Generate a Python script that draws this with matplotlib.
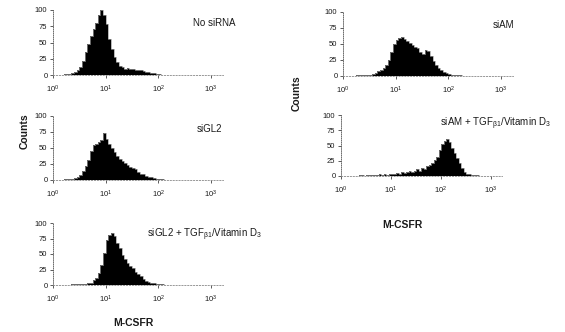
import numpy as np
import matplotlib
matplotlib.use("Agg")
import matplotlib.pyplot as plt

plt.rcParams['font.family'] = ['Liberation Sans', 'DejaVu Sans']
plt.rcParams['mathtext.fontset'] = 'custom'
plt.rcParams['mathtext.rm'] = 'Liberation Sans'
plt.rcParams['mathtext.it'] = 'Liberation Sans:italic'
plt.rcParams['mathtext.default'] = 'regular'

# histogram channels: log10(M-CSFR) from 0 to 3.2, 0.05 per bin
bin_edges = np.arange(0, 3.2001, 0.05)

no_sirna = [0, 0, 0.5, 0, 1, 1.5, 2, 3, 4, 7,
            12, 22, 36, 48, 60, 71, 80, 92, 100, 93,
            78, 55, 40, 28, 20, 14, 12, 10, 11, 9,
            10, 8, 7, 8, 6, 5, 4, 3, 2.5, 1.5,
            1, 0.5, 0.5, 0, 0.5, 0, 0.5, 0, 0.5, 0,
            0.5, 0, 0.5, 0.5, 0, 0.5, 0, 0.5, 0, 0.5,
            0, 0.5, 0, 0]

sigl2 = [0, 0, 0.5, 0.5, 1, 1, 1.5, 2, 2.5, 4,
         8, 14, 22, 31, 46, 54, 57, 59, 63, 74,
         64, 56, 50, 44, 38, 33, 29, 26, 23, 21,
         19, 17, 13, 10, 9, 7, 5, 4, 3, 2,
         1.5, 1, 0.5, 0.5, 0, 0.5, 0.5, 0, 0.5, 0,
         0.5, 0, 0.5, 0, 0.5, 0.5, 0, 0.5, 0, 0.5,
         0, 0.5, 0, 0]

sigl2_tgf = [0, 0, 0, 0.5, 0.5, 0.5, 0.5, 1, 1, 1,
             1.5, 1.5, 2, 2.5, 4, 8, 12, 19, 33, 52,
             72, 80, 84, 79, 68, 60, 49, 42, 35, 31,
             27, 21, 17, 14, 10, 7, 5, 3.5, 2.5, 2,
             1, 1, 0.5, 0.5, 0, 0.5, 0, 0.5, 0, 0,
             0.5, 0, 0, 0.5, 0, 0.5, 0, 0, 0.5, 0,
             0.5, 0, 0, 0]

siam = [0, 0, 0.5, 0.5, 0.5, 1, 1, 1, 1.5, 1.5,
        2, 3, 5, 8, 10, 13, 17, 25, 38, 50,
        57, 59, 61, 58, 55, 52, 48, 46, 43, 37,
        35, 40, 39, 31, 23, 17, 13, 9, 6.5, 5,
        3, 2, 1.5, 1, 1, 0.5, 0.5, 0.5, 0, 0.5,
        0, 0.5, 0.5, 0, 0.5, 0, 0.5, 0.5, 0, 0.5,
        0.5, 0, 0.5, 0]

siam_tgf = [0, 0, 0.5, 0, 0.5, 0.5, 0, 1, 1, 0.5,
            1, 1.5, 1, 2, 1.5, 3, 2, 2.5, 2, 3,
            4, 3, 5, 4, 6, 5, 7, 9, 6, 8,
            11, 9, 13, 12, 16, 18, 21, 26, 31, 42,
            52, 58, 61, 55, 46, 37, 30, 21, 13, 7,
            4, 2.5, 1.5, 1, 1, 0.5, 0.5, 0, 0.5, 0.5,
            0, 0.5, 0, 0]

y_ticks = [0, 25, 50, 75, 100]
x_ticks = [0, 1, 2, 3]
x_labels = ['10$^0$', '10$^1$', '10$^2$', '10$^3$']

tgf = r'TGF$_{\beta1}$/Vitamin D$_3$'
panels = [
    # counts, label, left px, baseline px, px per decade, height px, label x, label y
    (no_sirna, 'No siRNA', 53, 75, 52.7, 65, 193, 23),
    (sigl2, 'siGL2', 53, 180, 52.7, 64, 197, 129),
    (sigl2_tgf, 'siGL2 + ' + tgf, 53, 285, 52.7, 62, 147, 235),
    (siam, 'siAM', 343, 76, 52.7, 64, 493, 25),
    (siam_tgf, 'siAM + ' + tgf, 341, 176, 50, 61, 440, 124),
]

W, H = 565, 332
fig = plt.figure(figsize=(W / 100, H / 100), dpi=100)
ink = '#1a1a1a'

for counts, label, left, base, dec, hgt, lx, ly in panels:
    ax = fig.add_axes([left / W, (H - base) / H, 3.22 * dec / W, hgt / H])
    ax.stairs(counts, bin_edges, fill=True, color='black', zorder=2)
    ax.stairs(counts, bin_edges, color='#9a9a9a', lw=0.5, zorder=3)
    ax.set_xlim(0, 3.22)
    ax.set_ylim(0, 100)
    ax.set_yticks(y_ticks)
    ax.set_xticks(x_ticks)
    ax.set_xticklabels(x_labels)
    ax.tick_params(axis='both', labelsize=5.5, colors=ink, width=0.5, length=2)
    ax.tick_params(axis='x', pad=4)
    ax.tick_params(axis='y', pad=2)
    for s in ['top', 'right']:
        ax.spines[s].set_visible(False)
    ax.spines['left'].set_linestyle((0, (1, 1.5)))
    ax.spines['left'].set_linewidth(0.6)
    ax.spines['left'].set_color('#555555')
    ax.spines['bottom'].set_linestyle((0, (1.5, 2)))
    ax.spines['bottom'].set_linewidth(0.6)
    ax.spines['bottom'].set_color('#888888')
    ax.patch.set_alpha(0)
    fig.text(lx / W, 1 - ly / H, label, fontsize=7, color=ink,
             ha='left', va='center')

# axis titles
fig.text(25 / W, 1 - 131 / H, 'Counts', rotation=90, fontsize=7.5,
         fontweight='bold', color=ink, ha='center', va='center')
fig.text(297 / W, 1 - 93 / H, 'Counts', rotation=90, fontsize=7.5,
         fontweight='bold', color=ink, ha='center', va='center')
fig.text(133 / W, 1 - 323 / H, 'M-CSFR', fontsize=7.5,
         fontweight='bold', color=ink, ha='center', va='center')
fig.text(402 / W, 1 - 225 / H, 'M-CSFR', fontsize=7.5,
         fontweight='bold', color=ink, ha='center', va='center')

fig.savefig('out.png', dpi=100)
